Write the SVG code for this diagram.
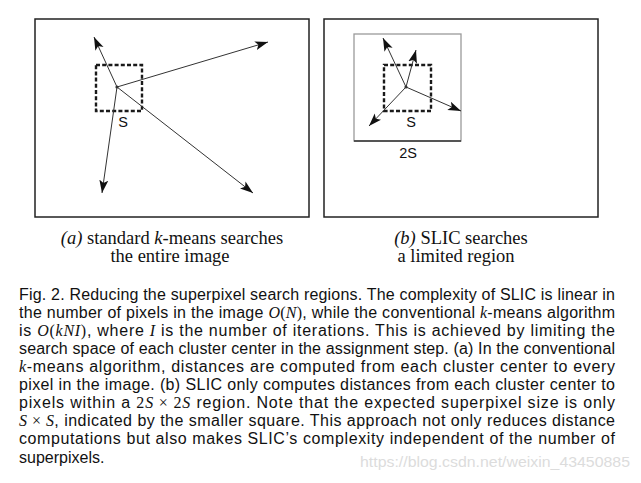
<svg xmlns="http://www.w3.org/2000/svg" width="641" height="483" viewBox="0 0 641 483">
<style>
.frame{fill:none;stroke:#222;stroke-width:1.5}
.dash{fill:none;stroke:#1a1a1a;stroke-width:2.4;stroke-dasharray:4 2.2}
.vec{stroke:#333;stroke-width:1;fill:none;marker-end:url(#ah)}
.lbl{font-family:"Liberation Sans",Arial,sans-serif;font-size:14.5px;fill:#111}
.cap{font-family:"Liberation Serif","Times New Roman",serif;font-size:18.5px;fill:#111}
.para{font-family:"Liberation Sans",Arial,sans-serif;font-size:16px;fill:#111}
.m{font-family:"Liberation Serif","Times New Roman",serif;font-style:italic}
.r{font-family:"Liberation Serif","Times New Roman",serif;font-style:normal}
</style>
<defs>
<marker id="ah" markerUnits="userSpaceOnUse" markerWidth="14" markerHeight="10" viewBox="0 0 14 10" refX="13" refY="5" orient="auto">
<path d="M0,0.5 L13,5 L0,9.5 L3,5 Z" fill="#111"/>
</marker>
</defs>
<g id="panel-a">
<rect class="frame" x="35" y="19" width="274" height="198"/>
<rect class="dash" x="96" y="65" width="46" height="46"/>
<text class="lbl" x="123" y="127" text-anchor="middle">S</text>
</g>
<g id="panel-b">
<rect class="frame" x="324" y="19" width="274" height="198"/>
<rect x="354" y="34" width="107" height="107" fill="none" stroke="#9a9a9a" stroke-width="1.3"/>
<line x1="354" y1="141" x2="461" y2="141" stroke="#333" stroke-width="1.3"/>
<rect class="dash" x="384" y="65" width="47" height="46"/>
<text class="lbl" x="411" y="127" text-anchor="middle">S</text>
<text class="lbl" x="408" y="158" text-anchor="middle">2S</text>
</g>
<g id="connectors">
<line class="vec" x1="117" y1="87" x2="94" y2="37"/>
<line class="vec" x1="117" y1="87" x2="268" y2="42"/>
<line class="vec" x1="117" y1="87" x2="102" y2="193"/>
<line class="vec" x1="117" y1="87" x2="253" y2="193"/>
<circle cx="117" cy="87" r="1.6" fill="#333"/>
<line class="vec" x1="406" y1="87" x2="383" y2="38"/>
<line class="vec" x1="406" y1="87" x2="416" y2="50"/>
<line class="vec" x1="406" y1="87" x2="461" y2="111"/>
<line class="vec" x1="406" y1="87" x2="369" y2="126"/>
<circle cx="406" cy="87" r="1.6" fill="#333"/>
</g>
<g id="captions">
<text class="cap" x="172" y="244" text-anchor="middle"><tspan font-style="italic">(a)</tspan> standard <tspan font-style="italic">k</tspan>-means searches</text>
<text class="cap" x="170" y="262" text-anchor="middle">the entire image</text>
<text class="cap" x="461" y="244" text-anchor="middle"><tspan font-style="italic">(b)</tspan> SLIC searches</text>
<text class="cap" x="456" y="262" text-anchor="middle">a limited region</text>
</g>
<g id="paragraph">
<text class="para" x="19" y="300" textLength="596" lengthAdjust="spacing">Fig. 2. Reducing the superpixel search regions. The complexity of SLIC is linear in</text>
<text class="para" x="19" y="318" textLength="596" lengthAdjust="spacing">the number of pixels in the image <tspan class="m">O</tspan><tspan class="r">(</tspan><tspan class="m">N</tspan><tspan class="r">)</tspan>, while the conventional <tspan class="m">k</tspan>-means algorithm</text>
<text class="para" x="19" y="336" textLength="596" lengthAdjust="spacing">is <tspan class="m">O</tspan><tspan class="r">(</tspan><tspan class="m">kNI</tspan><tspan class="r">)</tspan>, where <tspan class="m">I</tspan> is the number of iterations. This is achieved by limiting the</text>
<text class="para" x="19" y="354" textLength="596" lengthAdjust="spacing">search space of each cluster center in the assignment step. (a) In the conventional</text>
<text class="para" x="19" y="372" textLength="596" lengthAdjust="spacing"><tspan class="m">k</tspan>-means algorithm, distances are computed from each cluster center to every</text>
<text class="para" x="19" y="390" textLength="596" lengthAdjust="spacing">pixel in the image. (b) SLIC only computes distances from each cluster center to</text>
<text class="para" x="19" y="408" textLength="596" lengthAdjust="spacing">pixels within a <tspan class="r">2</tspan><tspan class="m">S</tspan><tspan class="r"> × 2</tspan><tspan class="m">S</tspan> region. Note that the expected superpixel size is only</text>
<text class="para" x="19" y="426" textLength="596" lengthAdjust="spacing"><tspan class="m">S</tspan><tspan class="r"> × </tspan><tspan class="m">S</tspan>, indicated by the smaller square. This approach not only reduces distance</text>
<text class="para" x="19" y="444" textLength="596" lengthAdjust="spacing">computations but also makes SLIC’s complexity independent of the number of</text>
<text class="para" x="19" y="463">superpixels.</text>
</g>
<text x="360" y="467" textLength="270" lengthAdjust="spacingAndGlyphs" font-family="'Liberation Sans',Arial,sans-serif" font-size="14.5" fill="#dcdcdc">https://blog.csdn.net/weixin_43450885</text>
</svg>
